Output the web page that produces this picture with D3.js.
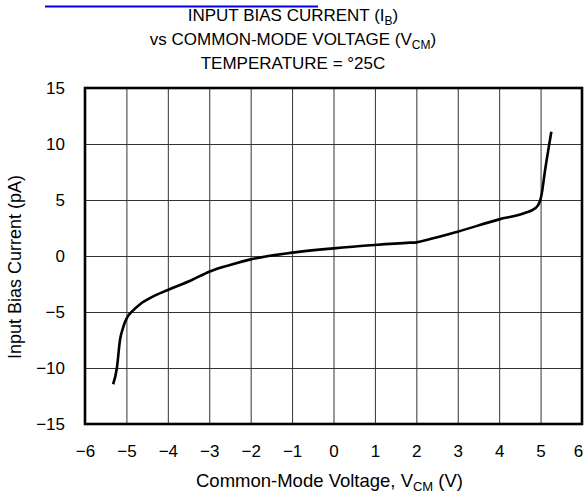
<!DOCTYPE html>
<html>
<head>
<meta charset="utf-8">
<script src="https://cdn.jsdelivr.net/npm/d3@7"></script>
<style>
  body { margin: 0; background: #fff; }
  text { font-family: "Liberation Sans", Arial, sans-serif; fill: #000; }
</style>
</head>
<body>
<script>
// curve: [V_CM (V), I_B (pA)]
let vcm = [-5.32, -5.23, -5.155, -5.08, -5.03, -4.95, -4.87, -4.67, -4.35, -4.0, -3.42, -3.0, -2.5, -2.0, -1.0, 0, 1.0, 1.85, 2.0, 2.25, 3.0, 4.0, 4.6, 4.87, 4.97, 5.02, 5.11, 5.26]
let ib = [-11.45, -10.0, -7.5, -6.4, -5.85, -5.3, -4.97, -4.3, -3.6, -3.04, -2.14, -1.4, -0.8, -0.3, 0.3, 0.68, 0.98, 1.19, 1.22, 1.43, 2.17, 3.27, 3.81, 4.26, 4.75, 5.4, 7.7, 11.1]
let xTicks = [-6, -5, -4, -3, -2, -1, 0, 1, 2, 3, 4, 5, 6]
let yTicks = [-15, -10, -5, 0, 5, 10, 15]

let width = 585
let height = 495
let plotLeft = 85, plotRight = 582, plotTop = 88, plotBottom = 424

let svg = d3.select('body')
  .append('svg')
  .attr('width', width)
  .attr('height', height)

let x = d3.scaleLinear().domain([-6, 6]).range([plotLeft, plotRight])
let y = d3.scaleLinear().domain([-15, 15]).range([plotBottom, plotTop])

// stray link underline above the title
svg.append('line')
  .attr('x1', 45).attr('x2', 318)
  .attr('y1', 6.5).attr('y2', 6.5)
  .attr('stroke', '#0000ee')
  .attr('stroke-width', 2)

// title, three lines
let title = svg.append('text')
  .attr('text-anchor', 'middle')
  .attr('font-size', 17)
let t1 = title.append('tspan').attr('x', 293).attr('y', 20.5)
t1.append('tspan').text('INPUT BIAS CURRENT (I')
t1.append('tspan').attr('font-size', 12).attr('dy', 4).text('B')
t1.append('tspan').attr('dy', -4).text(')')
let t2 = title.append('tspan').attr('x', 293).attr('y', 45)
t2.append('tspan').text('vs COMMON-MODE VOLTAGE (V')
t2.append('tspan').attr('font-size', 12).attr('dy', 4).text('CM')
t2.append('tspan').attr('dy', -4).text(')')
title.append('tspan').attr('x', 293).attr('y', 68.5).text('TEMPERATURE = °25C')

// grid through the axes
svg.append('g')
  .attr('transform', 'translate(0,' + plotBottom + ')')
  .call(d3.axisBottom(x).tickValues(xTicks).tickSizeInner(-(plotBottom - plotTop)).tickSizeOuter(0).tickPadding(21))
svg.append('g')
  .attr('transform', 'translate(' + plotLeft + ',0)')
  .call(d3.axisLeft(y).tickValues(yTicks).tickSizeInner(-(plotRight - plotLeft)).tickSizeOuter(0).tickPadding(20))

svg.selectAll('.domain').remove()
svg.selectAll('.tick line')
  .attr('stroke', '#333')
  .attr('stroke-width', 1)
svg.selectAll('.tick text')
  .attr('font-size', 17)
  .attr('font-family', '"Liberation Sans", Arial, sans-serif')
  .attr('fill', '#000')
// last x label sits just inside the page edge
svg.selectAll('.tick text')
  .filter(d => d === 6)
  .attr('dx', -4)

// plot frame
svg.append('rect')
  .attr('x', plotLeft).attr('y', plotTop)
  .attr('width', plotRight - plotLeft).attr('height', plotBottom - plotTop)
  .attr('fill', 'none')
  .attr('stroke', '#000')
  .attr('stroke-width', 2.6)

let line = d3.line()
  .x((d, i) => x(vcm[i]))
  .y((d, i) => y(ib[i]))
  .curve(d3.curveMonotoneX)

svg.append('path')
  .datum(vcm)
  .attr('d', line)
  .attr('fill', 'none')
  .attr('stroke', '#000')
  .attr('stroke-width', 2.6)
  .attr('stroke-linejoin', 'round')

// axis labels
let xl = svg.append('text')
  .attr('x', 196)
  .attr('y', 487)
  .attr('font-size', 18.5)
xl.append('tspan').text('Common-Mode Voltage, V')
xl.append('tspan').attr('font-size', 13).attr('dy', 4).text('CM')
xl.append('tspan').attr('dy', -4).text(' (V)')

svg.append('text')
  .attr('transform', 'translate(21,267) rotate(-90)')
  .attr('text-anchor', 'middle')
  .attr('font-size', 18)
  .text('Input Bias Current (pA)')
</script>
</body>
</html>
